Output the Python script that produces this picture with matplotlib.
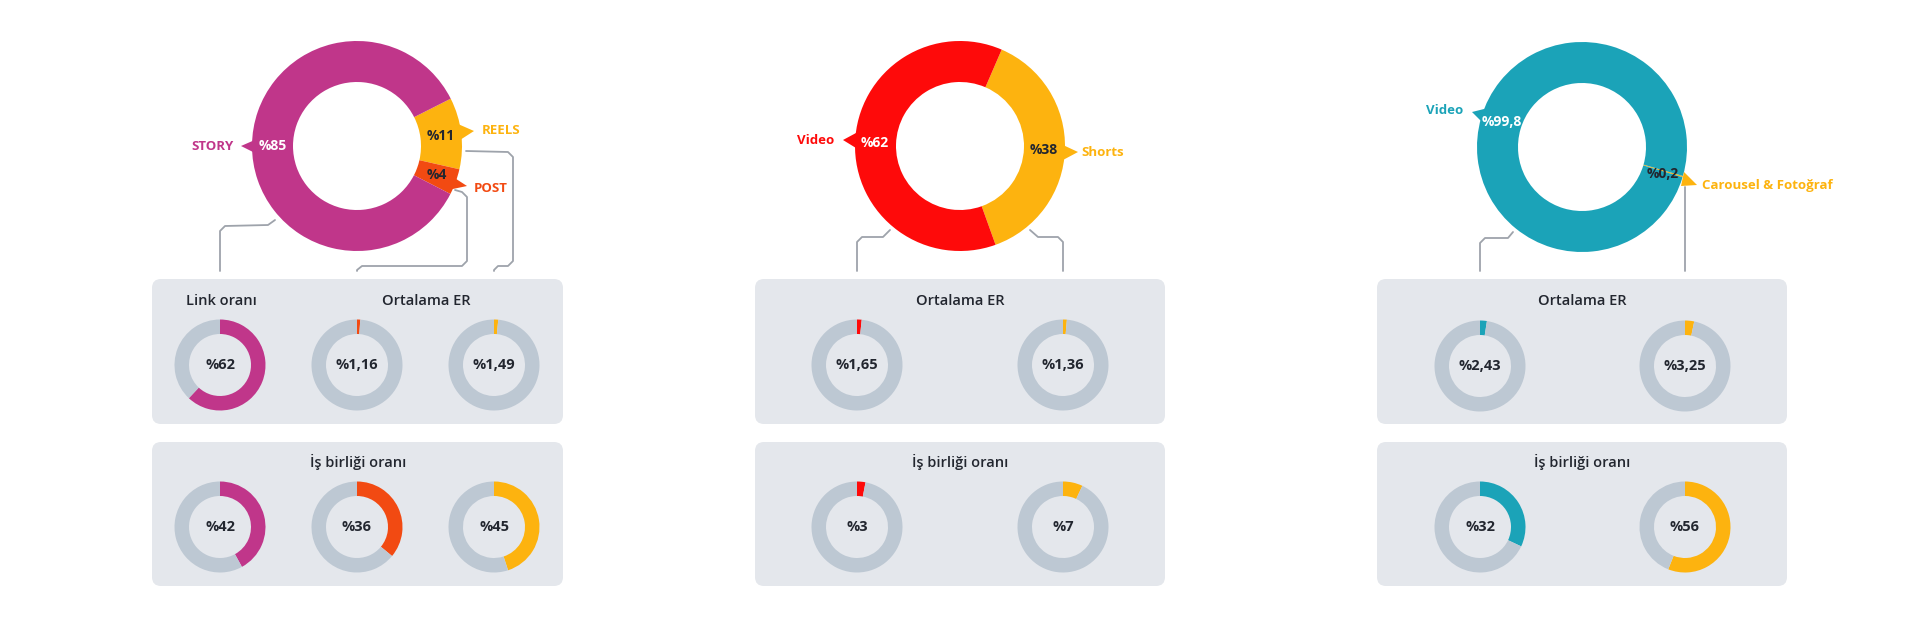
import matplotlib
matplotlib.use("Agg")
import matplotlib.pyplot as plt
from matplotlib.patches import FancyBboxPatch, Polygon

plt.rcParams['font.family'] = ['Open Sans', 'DejaVu Sans']

# ---- data ----
# column 1 (instagram)
ig_labels = ["REELS", "POST", "STORY"]
ig_share = [11, 4, 85]
ig_link = [62]
ig_er = [1.16, 1.49]
ig_collab = [42, 36, 45]

# column 2 (youtube)
yt_labels = ["Shorts", "Video"]
yt_share = [38, 62]
yt_er = [1.65, 1.36]
yt_collab = [3, 7]

# column 3
c3_labels = ["Carousel & Fotoğraf", "Video"]
c3_share = [0.2, 99.8]
c3_er = [2.43, 3.25]
c3_collab = [32, 56]

# ---- colours ----
MAGENTA = "#c0368a"
YELLOW = "#fdb30f"
ORANGE = "#f24a12"
RED = "#fe0a0a"
TEAL = "#1ba3b8"
RING = "#bdc8d3"
PANEL = "#e4e7ec"
LINE = "#9ea3ab"
DARK = "#22262f"

H = 640
fig = plt.figure(figsize=(19.2, 6.4), dpi=100)
ax = fig.add_axes([0, 0, 1, 1])


def Y(y):
    return H - y


def fmt(v):
    return "%" + f"{v:g}".replace(".", ",")


def big_donut(cx, cy, vals, cols, start):
    ax.pie(vals, colors=cols, startangle=start, counterclock=False,
           center=(cx, Y(cy)), radius=105, wedgeprops=dict(width=41, linewidth=0))


def mini(cx, cy, val, col):
    ax.pie([val, 100 - val], colors=[col, RING], startangle=90, counterclock=False,
           center=(cx, Y(cy)), radius=45.5, wedgeprops=dict(width=14.5, linewidth=0))
    ax.text(cx, Y(cy), fmt(val), ha="center", va="center", fontsize=10.5,
            fontweight="bold", color=DARK)


def panel(x0, x1, y0, y1):
    ax.add_patch(FancyBboxPatch((x0, Y(y1)), x1 - x0, y1 - y0,
                                boxstyle="round,pad=0,rounding_size=9",
                                fc=PANEL, ec="none", zorder=0))


def title(x, y, s):
    ax.text(x, Y(y), s, ha="center", va="center", fontsize=10.5,
            fontweight="semibold", color=DARK)


def link(pts):
    ax.plot([p[0] for p in pts], [Y(p[1]) for p in pts], color=LINE, lw=1.3,
            solid_capstyle="round", solid_joinstyle="round")


def flag(pts, col):
    ax.add_patch(Polygon([(p[0], Y(p[1])) for p in pts], closed=True, fc=col, ec="none", zorder=3))


def label(x, y, s, col, ha="center"):
    ax.text(x, Y(y), s, ha=ha, va="center", fontsize=9.5, fontweight="bold", color=col, zorder=4)


def inner(x, y, s, col):
    ax.text(x, Y(y), s, ha="center", va="center", fontsize=10, fontweight="bold", color=col, zorder=4)


# ---- column 1 ----
big_donut(357, 146, ig_share, [YELLOW, ORANGE, MAGENTA], 26.8)
flag([(241, 146), (257, 139), (257, 154)], MAGENTA)
flag([(474, 131), (458, 124), (460, 140)], YELLOW)
flag([(467, 186), (450, 175), (448, 190)], ORANGE)
label(212, 146, ig_labels[2], MAGENTA)
label(501, 131, ig_labels[0], YELLOW)
label(491, 189, ig_labels[1], ORANGE)
inner(273, 146, fmt(ig_share[2]), "white")
inner(441, 136, fmt(ig_share[0]), DARK)
inner(437, 175, fmt(ig_share[1]), DARK)
link([(275, 220), (268, 225), (225, 226), (220, 231), (220, 271)])
link([(455, 190), (462, 192), (467, 197), (467, 261), (462, 266), (362, 266), (357, 270), (357, 271)])
link([(466, 151), (508, 152), (513, 157), (513, 261), (508, 266), (498, 266), (494, 270), (494, 271)])

panel(152, 563, 279, 424)
panel(152, 563, 442, 586)
title(221, 301, "Link oranı")
title(426, 301, "Ortalama ER")
title(358, 462, "İş birliği oranı")
mini(220, 365, ig_link[0], MAGENTA)
mini(357, 365, ig_er[0], ORANGE)
mini(494, 365, ig_er[1], YELLOW)
for x, v, c in zip([220, 357, 494], ig_collab, [MAGENTA, ORANGE, YELLOW]):
    mini(x, 527, v, c)

# ---- column 2 ----
big_donut(960, 146, yt_share, [YELLOW, RED], 66.6)
flag([(843, 140), (856, 133), (856, 148)], RED)
flag([(1078, 152), (1063, 145), (1063, 160)], YELLOW)
label(816, 140, yt_labels[1], RED)
label(1103, 152, yt_labels[0], YELLOW)
inner(875, 143, fmt(yt_share[1]), "white")
inner(1044, 150, fmt(yt_share[0]), DARK)
link([(890, 230), (883, 237), (862, 237), (857, 242), (857, 271)])
link([(1030, 230), (1038, 237), (1058, 237), (1063, 242), (1063, 271)])

panel(755, 1165, 279, 424)
panel(755, 1165, 442, 586)
title(960, 301, "Ortalama ER")
title(960, 462, "İş birliği oranı")
for x, v, c in zip([857, 1063], yt_er, [RED, YELLOW]):
    mini(x, 365, v, c)
for x, v, c in zip([857, 1063], yt_collab, [RED, YELLOW]):
    mini(x, 527, v, c)

# ---- column 3 ----
big_donut(1582, 147, c3_share, [YELLOW, TEAL], -16.0)
flag([(1472, 112), (1488, 108), (1483, 123)], TEAL)
flag([(1684, 172), (1681, 186), (1697, 185)], YELLOW)
label(1445, 110, c3_labels[1], TEAL)
label(1702, 186, c3_labels[0], YELLOW, ha="left")
inner(1502, 122, fmt(c3_share[1]), "white")
inner(1663, 174, fmt(c3_share[0]), DARK)
link([(1513, 232), (1508, 238), (1485, 238), (1480, 243), (1480, 271)])
link([(1685, 187), (1685, 271)])

panel(1377, 1787, 279, 424)
panel(1377, 1787, 442, 586)
title(1582, 301, "Ortalama ER")
title(1582, 462, "İş birliği oranı")
for x, v, c in zip([1480, 1685], c3_er, [TEAL, YELLOW]):
    mini(x, 366, v, c)
for x, v, c in zip([1480, 1685], c3_collab, [TEAL, YELLOW]):
    mini(x, 527, v, c)

ax.set_xlim(0, 1920)
ax.set_ylim(0, H)
ax.set_aspect("equal")
ax.axis("off")

fig.savefig("out.png", dpi=100, facecolor="white")
